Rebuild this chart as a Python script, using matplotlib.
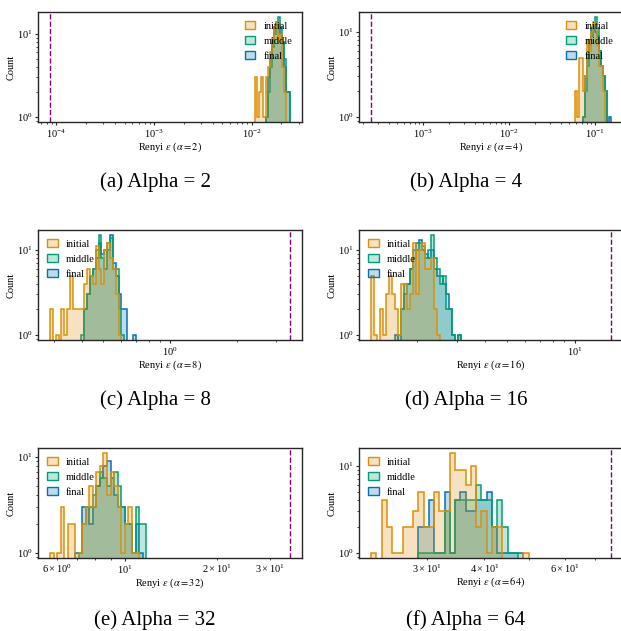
import numpy as np
import matplotlib
matplotlib.use("Agg")
import matplotlib.pyplot as plt
from matplotlib.colors import to_rgba
from matplotlib.patches import Patch

plt.rcParams["font.family"] = ["Liberation Serif", "DejaVu Serif"]
plt.rcParams["mathtext.fontset"] = "stix"

# alpha orders, one panel each
alphas = [2, 4, 8, 16, 32, 64]
panel_tags = ["(a)", "(b)", "(c)", "(d)", "(e)", "(f)"]

# bin range (log10 of Renyi eps) and bin count per panel
bin_lo = [-1.965, -1.232, -0.541, 0.096, 0.756, 1.354]
bin_hi = [-1.610, -0.814, -0.156, 0.494, 1.071, 1.699]

# theoretical bound (dashed line) per panel
bound = [8.6e-5, 2.47e-4, 3.45, 14.5, 34.8, 75.7]

# histogram counts
initial_a = [3, 1, 2, 3, 1, 3, 4, 6, 9, 12, 14, 8, 10, 4, 2, 0, 0]
middle_a = [0, 0, 0, 0, 0, 1, 2, 4, 7, 10, 12, 16, 12, 8, 5, 2, 2]
final_a = [0, 0, 0, 0, 0, 1, 3, 5, 8, 12, 14, 13, 10, 8, 4, 2, 2]

initial_b = [2, 1, 5, 5, 2, 3, 8, 6, 10, 13, 12, 7, 4, 4, 2, 0, 0, 0]
middle_b = [0, 0, 0, 0, 1, 2, 4, 8, 9, 12, 15, 11, 6, 4, 3, 2, 0, 0]
final_b = [0, 0, 0, 0, 1, 3, 5, 7, 11, 12, 10, 9, 6, 4, 3, 2, 0, 1]

initial_c = [2, 0, 1, 0, 2, 1, 2, 5, 2, 2, 2, 2, 4, 6, 5, 4, 11, 6, 4, 10, 12, 8, 6, 3, 1, 0, 0, 0, 0, 0]
middle_c = [0, 0, 0, 0, 0, 0, 0, 0, 0, 0, 0, 1, 2, 3, 5, 6, 10, 15, 8, 6, 12, 14, 6, 6, 2, 1, 0, 0, 0, 0]
final_c = [0, 0, 0, 0, 0, 0, 0, 0, 0, 0, 0, 0, 2, 3, 5, 6, 8, 12, 9, 10, 10, 15, 7, 5, 3, 2, 2, 0, 0, 1]

initial_d = [5, 1, 0, 2, 1, 3, 5, 3, 2, 1, 4, 4, 2, 3, 12, 3, 10, 12, 6, 6, 8, 2, 1, 0, 0, 0, 0, 0, 0, 0]
middle_d = [0, 0, 0, 0, 0, 0, 0, 0, 0, 1, 2, 4, 4, 6, 8, 10, 12, 11, 8, 10, 15, 8, 6, 4, 5, 2, 2, 1, 0, 1]
final_d = [0, 0, 0, 0, 0, 0, 0, 0, 1, 0, 2, 3, 4, 6, 10, 12, 13, 10, 9, 8, 10, 6, 5, 5, 4, 3, 2, 1, 0, 1]

initial_e = [1, 0, 1, 3, 0, 2, 2, 0, 1, 2, 3, 5, 3, 7, 8, 11, 4, 7, 5, 3, 1, 2, 3, 1, 1, 0, 0]
middle_e = [0, 0, 0, 0, 0, 0, 0, 0, 1, 2, 3, 3, 4, 5, 7, 6, 5, 6, 7, 5, 3, 2, 2, 1, 3, 2, 2]
final_e = [0, 0, 0, 0, 0, 0, 0, 1, 1, 3, 3, 2, 3, 5, 6, 8, 9, 6, 4, 3, 3, 2, 2, 1, 2, 1, 0]

initial_f = [1, 0, 4, 2, 1, 1, 2, 2, 3, 5, 2, 2, 5, 3, 3, 14, 9, 9, 6, 10, 2, 3, 1, 2, 2, 0, 0, 0, 0, 1]
middle_f = [0, 0, 0, 0, 0, 0, 0, 0, 0, 1, 1, 1, 1, 1, 3, 1, 4, 4, 4, 4, 6, 4, 4, 2, 4, 2, 1, 1, 0, 0]
final_f = [0, 0, 0, 0, 0, 0, 0, 0, 0, 2, 2, 4, 1, 1, 5, 1, 4, 5, 3, 3, 4, 4, 5, 2, 1, 1, 1, 1, 1, 0]

initial = [initial_a, initial_b, initial_c, initial_d, initial_e, initial_f]
middle = [middle_a, middle_b, middle_c, middle_d, middle_e, middle_f]
final = [final_a, final_b, final_c, final_d, final_e, final_f]

labels = ["initial", "middle", "final"]
colors = {"initial": "#DE8F05", "middle": "#029E73", "final": "#0173B2"}
legend_loc = ["upper right", "upper right", "upper left", "upper left", "upper left", "upper left"]

W, H = 621, 631
fig = plt.figure(figsize=(W / 100, H / 100), dpi=100)

col_left = [38, 359]
row_top = [12, 230, 448]
ax_w, ax_h = 264, 110
cap_x = [155, 466]
cap_y = [182, 400, 620]

for k in range(6):
    r, c = divmod(k, 2)
    ax = fig.add_axes([col_left[c] / W, 1 - (row_top[r] + ax_h) / H, ax_w / W, ax_h / H])
    ax.set_xscale("log")
    ax.set_yscale("log")
    n = len(initial[k])
    edges = np.logspace(bin_lo[k], bin_hi[k], n + 1)
    series = {"initial": initial[k], "middle": middle[k], "final": final[k]}
    # seaborn-like layering: last hue drawn first
    for name in reversed(labels):
        col = colors[name]
        ax.stairs(series[name], edges, fill=True, baseline=0,
                  facecolor=to_rgba(col, 0.25), edgecolor=col, linewidth=1.1)
    ax.axvline(bound[k], color="purple", linestyle="--", linewidth=1.0)
    ax.set_xlabel(r"Renyi $\varepsilon$ ($\alpha = %d$)" % alphas[k], fontsize=7.5, labelpad=0.5)
    ax.set_ylabel("Count", fontsize=7.5, labelpad=0.5)
    ax.tick_params(labelsize=7.5, which="major", length=2.5, width=0.8, pad=1.5, color="#262626")
    ax.tick_params(labelsize=7.5, which="minor", length=1.5, width=0.6, pad=1.5, color="#262626")
    for sp in ax.spines.values():
        sp.set_color("#262626")
        sp.set_linewidth(1.0)
    handles = [Patch(facecolor=to_rgba(colors[nm], 0.25), edgecolor=colors[nm]) for nm in labels]
    ax.legend(handles, labels, loc=legend_loc[k], frameon=False, fontsize=7.5,
              handlelength=1.0, handleheight=0.8)
    fig.text(cap_x[c] / W, 1 - cap_y[r] / H, "%s Alpha = %d" % (panel_tags[k], alphas[k]),
             ha="center", va="center", fontsize=15)

fig.savefig("out.png", dpi=100)
